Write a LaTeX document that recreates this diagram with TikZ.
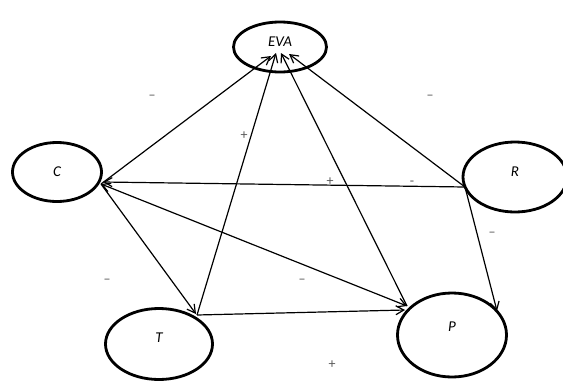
\documentclass[tikz,border=0pt]{standalone}
\usepackage{fontspec}
\setmainfont{Carlito}
\usetikzlibrary{arrows.meta,shapes.geometric}
\begin{document}
\begin{tikzpicture}[x=1pt,y=-1pt,
  factor/.style={draw=black,line width=2.8pt,ellipse,inner sep=0pt},
  factortext/.style={font=\itshape\fontsize{15}{15}\selectfont},
  flow/.style={draw=black,line width=1.2pt,-{Straight Barb[length=8pt,width=9pt,line width=1.2pt]}},
  both/.style={flow,{Straight Barb[length=8pt,width=9pt,line width=1.2pt]}-{Straight Barb[length=8pt,width=9pt,line width=1.2pt]}},
  sign/.style={text=black!65,font=\fontsize{14}{14}\selectfont}]
\useasboundingbox (0,0) rectangle (563,381);

% factors
\node[factor,minimum width=93pt,minimum height=50pt,
      label={[yshift=5pt,factortext]center:EVA}] (eva) at (280,47) {};
\node[factor,minimum width=89pt,minimum height=59pt,
      label={[factortext]center:C}] (c) at (57,172) {};
\node[factor,minimum width=104pt,minimum height=70pt,
      label={[yshift=5pt,factortext]center:R}] (r) at (515,177) {};
\node[factor,minimum width=107pt,minimum height=71pt,
      label={[yshift=6pt,factortext]center:T}] (t) at (159,344) {};
\node[factor,minimum width=109pt,minimum height=84pt,
      label={[yshift=8pt,factortext]center:P}] (p) at (452,335) {};

% attachment points
\coordinate (cO) at (101,184);
\coordinate (rO) at (465,187);
\coordinate (tO) at (197,315);
\coordinate (pO) at (407,306);
\coordinate (eC) at (271,56);
\coordinate (eT) at (276,53);
\coordinate (eP) at (281,53);
\coordinate (eR) at (289,54);
\coordinate (cR) at (103,182);
\coordinate (tC) at (196,314);
\coordinate (pT) at (405,310);
\coordinate (pR) at (497,311);

% influences
\draw[flow] (cO) -- (eC);
\draw[flow] (tO) -- (eT);
\draw[flow] (pO) -- (eP);
\draw[flow] (rO) -- (eR);
\draw[flow] (rO) -- (cR);
\draw[flow] (cO) -- (tC);
\draw[both] (cO) -- (pO);
\draw[flow] (tO) -- (pT);
\draw[flow] (rO) -- (pR);

% signs
\node[sign] (s1) at (152,97) {–};
\node[sign] (s2) at (244,136) {+};
\node[sign] (s3) at (430,97) {–};
\node[sign] (s4) at (330,182) {+};
\node[sign] (s5) at (412,183) {-};
\node[sign] (s6) at (492,234) {–};
\node[sign] (s7) at (107,281) {–};
\node[sign] (s8) at (302,281) {–};
\node[sign] (s9) at (332,365) {+};
\end{tikzpicture}
\end{document}
